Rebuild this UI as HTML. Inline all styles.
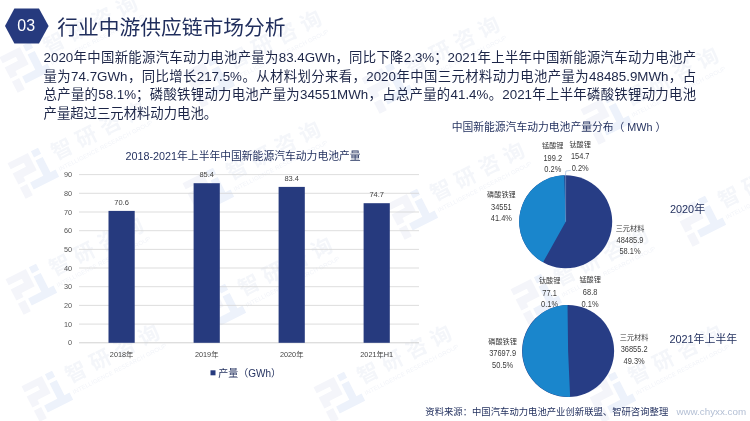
<!DOCTYPE html>
<html lang="zh-CN">
<head>
<meta charset="utf-8">
<title>行业中游供应链市场分析</title>
<style>
html,body{margin:0;padding:0;}
body{width:750px;height:421px;overflow:hidden;background:#fff;position:relative;
  font-family:"Liberation Sans","Noto Sans CJK SC",sans-serif;color:#1f2a52;}
#slide{will-change:transform;position:absolute;left:0;top:0;width:750px;height:421px;overflow:hidden;background:#fff;}
.abs{position:absolute;white-space:nowrap;}
#wm{position:absolute;left:0;top:0;width:750px;height:421px;}
#hex{position:absolute;left:0;top:0;}
#num{left:4.4px;top:16px;width:43.6px;text-align:center;color:#fff;font-size:16px;line-height:20px;}
#title{left:57.2px;top:12.6px;font-size:20.75px;line-height:30px;color:#1f2d5c;}
#body{left:43.6px;top:49.4px;width:652.4px;white-space:normal;font-size:13.35px;line-height:18.5px;color:#1c2547;}
.j{text-align:justify;text-align-last:justify;text-justify:inter-character;white-space:nowrap;}
.ct{font-size:9.6px;color:#1f2d5c;text-align:center;}
.sm{font-size:7.4px;color:#333;line-height:10px;}
.lbl{font-size:7.6px;color:#333;line-height:13px;text-align:center;}
</style>
</head>
<body>
<div id="slide">

<svg id="wm" width="750" height="421" viewBox="0 0 750 421">
  
    <g transform="translate(54,43) rotate(-27)">
      <g transform="translate(-55,-12) scale(1.14)">
        <path fill="#f4f5fa" d="M0 0h20v17h-13v4h-7v-11h13v-4h-13z M0 24h7v11h-7z"/>
        <path fill="#edf2fb" d="M23 0h7v6h-7z M23 9h7v15h5v7h-25v-7h13z"/>
      </g>
      <text x="-10.5" y="7.6" font-size="21" font-weight="700" fill="#f4f6fa" font-family="'Liberation Sans','Noto Sans CJK SC',sans-serif" letter-spacing="6.2">智研咨询</text>
      <text x="-12" y="19" font-size="6" fill="#f2f4f9" font-family="'Liberation Sans',sans-serif" letter-spacing="0.1">INTELLIGENCE RESEARCH GROUP</text>
    </g>
    <g transform="translate(62,149) rotate(-27)">
      <g transform="translate(-55,-12) scale(1.14)">
        <path fill="#f4f5fa" d="M0 0h20v17h-13v4h-7v-11h13v-4h-13z M0 24h7v11h-7z"/>
        <path fill="#edf2fb" d="M23 0h7v6h-7z M23 9h7v15h5v7h-25v-7h13z"/>
      </g>
      <text x="-10.5" y="7.6" font-size="21" font-weight="700" fill="#f4f6fa" font-family="'Liberation Sans','Noto Sans CJK SC',sans-serif" letter-spacing="6.2">智研咨询</text>
      <text x="-12" y="19" font-size="6" fill="#f2f4f9" font-family="'Liberation Sans',sans-serif" letter-spacing="0.1">INTELLIGENCE RESEARCH GROUP</text>
    </g>
    <g transform="translate(60,265) rotate(-27)">
      <g transform="translate(-55,-12) scale(1.14)">
        <path fill="#f4f5fa" d="M0 0h20v17h-13v4h-7v-11h13v-4h-13z M0 24h7v11h-7z"/>
        <path fill="#edf2fb" d="M23 0h7v6h-7z M23 9h7v15h5v7h-25v-7h13z"/>
      </g>
      <text x="-10.5" y="7.6" font-size="21" font-weight="700" fill="#f4f6fa" font-family="'Liberation Sans','Noto Sans CJK SC',sans-serif" letter-spacing="6.2">智研咨询</text>
      <text x="-12" y="19" font-size="6" fill="#f2f4f9" font-family="'Liberation Sans',sans-serif" letter-spacing="0.1">INTELLIGENCE RESEARCH GROUP</text>
    </g>
    <g transform="translate(76,372) rotate(-27)">
      <g transform="translate(-55,-12) scale(1.14)">
        <path fill="#f4f5fa" d="M0 0h20v17h-13v4h-7v-11h13v-4h-13z M0 24h7v11h-7z"/>
        <path fill="#edf2fb" d="M23 0h7v6h-7z M23 9h7v15h5v7h-25v-7h13z"/>
      </g>
      <text x="-10.5" y="7.6" font-size="21" font-weight="700" fill="#f4f6fa" font-family="'Liberation Sans','Noto Sans CJK SC',sans-serif" letter-spacing="6.2">智研咨询</text>
      <text x="-12" y="19" font-size="6" fill="#f2f4f9" font-family="'Liberation Sans',sans-serif" letter-spacing="0.1">INTELLIGENCE RESEARCH GROUP</text>
    </g>
    <g transform="translate(238,58) rotate(-27)">
      <g transform="translate(-55,-12) scale(1.14)">
        <path fill="#f4f5fa" d="M0 0h20v17h-13v4h-7v-11h13v-4h-13z M0 24h7v11h-7z"/>
        <path fill="#edf2fb" d="M23 0h7v6h-7z M23 9h7v15h5v7h-25v-7h13z"/>
      </g>
      <text x="-10.5" y="7.6" font-size="21" font-weight="700" fill="#f4f6fa" font-family="'Liberation Sans','Noto Sans CJK SC',sans-serif" letter-spacing="6.2">智研咨询</text>
      <text x="-12" y="19" font-size="6" fill="#f2f4f9" font-family="'Liberation Sans',sans-serif" letter-spacing="0.1">INTELLIGENCE RESEARCH GROUP</text>
    </g>
    <g transform="translate(237,169) rotate(-27)">
      <g transform="translate(-55,-12) scale(1.14)">
        <path fill="#f4f5fa" d="M0 0h20v17h-13v4h-7v-11h13v-4h-13z M0 24h7v11h-7z"/>
        <path fill="#edf2fb" d="M23 0h7v6h-7z M23 9h7v15h5v7h-25v-7h13z"/>
      </g>
      <text x="-10.5" y="7.6" font-size="21" font-weight="700" fill="#f4f6fa" font-family="'Liberation Sans','Noto Sans CJK SC',sans-serif" letter-spacing="6.2">智研咨询</text>
      <text x="-12" y="19" font-size="6" fill="#f2f4f9" font-family="'Liberation Sans',sans-serif" letter-spacing="0.1">INTELLIGENCE RESEARCH GROUP</text>
    </g>
    <g transform="translate(249,285) rotate(-27)">
      <g transform="translate(-55,-12) scale(1.14)">
        <path fill="#f4f5fa" d="M0 0h20v17h-13v4h-7v-11h13v-4h-13z M0 24h7v11h-7z"/>
        <path fill="#edf2fb" d="M23 0h7v6h-7z M23 9h7v15h5v7h-25v-7h13z"/>
      </g>
      <text x="-10.5" y="7.6" font-size="21" font-weight="700" fill="#f4f6fa" font-family="'Liberation Sans','Noto Sans CJK SC',sans-serif" letter-spacing="6.2">智研咨询</text>
      <text x="-12" y="19" font-size="6" fill="#f2f4f9" font-family="'Liberation Sans',sans-serif" letter-spacing="0.1">INTELLIGENCE RESEARCH GROUP</text>
    </g>
    <g transform="translate(368,373) rotate(-27)">
      <g transform="translate(-55,-12) scale(1.14)">
        <path fill="#f4f5fa" d="M0 0h20v17h-13v4h-7v-11h13v-4h-13z M0 24h7v11h-7z"/>
        <path fill="#edf2fb" d="M23 0h7v6h-7z M23 9h7v15h5v7h-25v-7h13z"/>
      </g>
      <text x="-10.5" y="7.6" font-size="21" font-weight="700" fill="#f4f6fa" font-family="'Liberation Sans','Noto Sans CJK SC',sans-serif" letter-spacing="6.2">智研咨询</text>
      <text x="-12" y="19" font-size="6" fill="#f2f4f9" font-family="'Liberation Sans',sans-serif" letter-spacing="0.1">INTELLIGENCE RESEARCH GROUP</text>
    </g>
    <g transform="translate(416,64) rotate(-27)">
      <g transform="translate(-55,-12) scale(1.14)">
        <path fill="#f4f5fa" d="M0 0h20v17h-13v4h-7v-11h13v-4h-13z M0 24h7v11h-7z"/>
        <path fill="#edf2fb" d="M23 0h7v6h-7z M23 9h7v15h5v7h-25v-7h13z"/>
      </g>
      <text x="-10.5" y="7.6" font-size="21" font-weight="700" fill="#f4f6fa" font-family="'Liberation Sans','Noto Sans CJK SC',sans-serif" letter-spacing="6.2">智研咨询</text>
      <text x="-12" y="19" font-size="6" fill="#f2f4f9" font-family="'Liberation Sans',sans-serif" letter-spacing="0.1">INTELLIGENCE RESEARCH GROUP</text>
    </g>
    <g transform="translate(441,190) rotate(-27)">
      <g transform="translate(-55,-12) scale(1.14)">
        <path fill="#f4f5fa" d="M0 0h20v17h-13v4h-7v-11h13v-4h-13z M0 24h7v11h-7z"/>
        <path fill="#edf2fb" d="M23 0h7v6h-7z M23 9h7v15h5v7h-25v-7h13z"/>
      </g>
      <text x="-10.5" y="7.6" font-size="21" font-weight="700" fill="#f4f6fa" font-family="'Liberation Sans','Noto Sans CJK SC',sans-serif" letter-spacing="6.2">智研咨询</text>
      <text x="-12" y="19" font-size="6" fill="#f2f4f9" font-family="'Liberation Sans',sans-serif" letter-spacing="0.1">INTELLIGENCE RESEARCH GROUP</text>
    </g>
    <g transform="translate(565,275) rotate(-27)">
      <g transform="translate(-55,-12) scale(1.14)">
        <path fill="#f4f5fa" d="M0 0h20v17h-13v4h-7v-11h13v-4h-13z M0 24h7v11h-7z"/>
        <path fill="#edf2fb" d="M23 0h7v6h-7z M23 9h7v15h5v7h-25v-7h13z"/>
      </g>
      <text x="-10.5" y="7.6" font-size="21" font-weight="700" fill="#f4f6fa" font-family="'Liberation Sans','Noto Sans CJK SC',sans-serif" letter-spacing="6.2">智研咨询</text>
      <text x="-12" y="19" font-size="6" fill="#f2f4f9" font-family="'Liberation Sans',sans-serif" letter-spacing="0.1">INTELLIGENCE RESEARCH GROUP</text>
    </g>
    <g transform="translate(639,373) rotate(-27)">
      <g transform="translate(-55,-12) scale(1.14)">
        <path fill="#f4f5fa" d="M0 0h20v17h-13v4h-7v-11h13v-4h-13z M0 24h7v11h-7z"/>
        <path fill="#edf2fb" d="M23 0h7v6h-7z M23 9h7v15h5v7h-25v-7h13z"/>
      </g>
      <text x="-10.5" y="7.6" font-size="21" font-weight="700" fill="#f4f6fa" font-family="'Liberation Sans','Noto Sans CJK SC',sans-serif" letter-spacing="6.2">智研咨询</text>
      <text x="-12" y="19" font-size="6" fill="#f2f4f9" font-family="'Liberation Sans',sans-serif" letter-spacing="0.1">INTELLIGENCE RESEARCH GROUP</text>
    </g>
    <g transform="translate(635,95) rotate(-27)">
      <g transform="translate(-55,-12) scale(1.14)">
        <path fill="#f4f5fa" d="M0 0h20v17h-13v4h-7v-11h13v-4h-13z M0 24h7v11h-7z"/>
        <path fill="#edf2fb" d="M23 0h7v6h-7z M23 9h7v15h5v7h-25v-7h13z"/>
      </g>
      <text x="-10.5" y="7.6" font-size="21" font-weight="700" fill="#f4f6fa" font-family="'Liberation Sans','Noto Sans CJK SC',sans-serif" letter-spacing="6.2">智研咨询</text>
      <text x="-12" y="19" font-size="6" fill="#f2f4f9" font-family="'Liberation Sans',sans-serif" letter-spacing="0.1">INTELLIGENCE RESEARCH GROUP</text>
    </g>
    <g transform="translate(729,197) rotate(-27)">
      <g transform="translate(-55,-12) scale(1.14)">
        <path fill="#f4f5fa" d="M0 0h20v17h-13v4h-7v-11h13v-4h-13z M0 24h7v11h-7z"/>
        <path fill="#edf2fb" d="M23 0h7v6h-7z M23 9h7v15h5v7h-25v-7h13z"/>
      </g>
      <text x="-10.5" y="7.6" font-size="21" font-weight="700" fill="#f4f6fa" font-family="'Liberation Sans','Noto Sans CJK SC',sans-serif" letter-spacing="6.2">智研咨询</text>
      <text x="-12" y="19" font-size="6" fill="#f2f4f9" font-family="'Liberation Sans',sans-serif" letter-spacing="0.1">INTELLIGENCE RESEARCH GROUP</text>
    </g>
</svg>

<svg id="hex" width="60" height="50" viewBox="0 0 60 50">
  <polygon points="5,26 14.4,8.6 39,8.6 48.6,26 39,43.6 14.4,43.6" fill="#263a7e"/>
</svg>
<div id="num" class="abs">03</div>
<div id="title" class="abs">行业中游供应链市场分析</div>

<div id="body" class="abs"><div class="j">2020年中国新能源汽车动力电池产量为83.4GWh，同比下降2.3%；2021年上半年中国新能源汽车动力电池产</div><div class="j">量为74.7GWh，同比增长217.5%。从材料划分来看，2020年中国三元材料动力电池产量为48485.9MWh，占</div><div class="j">总产量的58.1%；磷酸铁锂动力电池产量为34551MWh，占总产量的41.4%。2021年上半年磷酸铁锂动力电池</div><div>产量超过三元材料动力电池。</div></div>

<!-- bar chart -->
<svg class="abs" style="left:0;top:140px" width="440" height="250" viewBox="0 140 440 250" font-family="'Liberation Sans','Noto Sans CJK SC',sans-serif">
  <text x="243" y="160" font-size="10.8" fill="#1f2d5c" text-anchor="middle">2018-2021年上半年中国新能源汽车动力电池产量</text>
  <g stroke="#d4d4d4" stroke-width="0.8">
    <line x1="79" x2="419" y1="174.6" y2="174.6"/>
    <line x1="79" x2="419" y1="193.3" y2="193.3"/>
    <line x1="79" x2="419" y1="212.0" y2="212.0"/>
    <line x1="79" x2="419" y1="230.7" y2="230.7"/>
    <line x1="79" x2="419" y1="249.4" y2="249.4"/>
    <line x1="79" x2="419" y1="268.0" y2="268.0"/>
    <line x1="79" x2="419" y1="286.7" y2="286.7"/>
    <line x1="79" x2="419" y1="305.4" y2="305.4"/>
    <line x1="79" x2="419" y1="324.1" y2="324.1"/>
  </g>
  <line x1="79" x2="419" y1="342.8" y2="342.8" stroke="#cccccc" stroke-width="0.9"/>
  <g fill="#263a7e">
    <rect x="108.5" y="210.9" width="26.2" height="131.9"/>
    <rect x="193.6" y="183.2" width="26.2" height="159.6"/>
    <rect x="278.6" y="186.9" width="26.2" height="155.9"/>
    <rect x="363.6" y="203.2" width="26.2" height="139.6"/>
  </g>
  <g font-size="7.3" fill="#555" text-anchor="end">
    <text x="72" y="177.2">90</text>
    <text x="72" y="195.9">80</text>
    <text x="72" y="214.6">70</text>
    <text x="72" y="233.3">60</text>
    <text x="72" y="252.0">50</text>
    <text x="72" y="270.6">40</text>
    <text x="72" y="289.3">30</text>
    <text x="72" y="308.0">20</text>
    <text x="72" y="326.7">10</text>
    <text x="72" y="345.4">0</text>
  </g>
  <g font-size="7.5" fill="#444" text-anchor="middle">
    <text x="121.6" y="204.8">70.6</text>
    <text x="206.7" y="177.1">85.4</text>
    <text x="291.7" y="180.8">83.4</text>
    <text x="376.7" y="197.1">74.7</text>
  </g>
  <g font-size="7.3" fill="#444" text-anchor="middle">
    <text x="121.6" y="356.5">2018年</text>
    <text x="206.7" y="356.5">2019年</text>
    <text x="291.7" y="356.5">2020年</text>
    <text x="376.7" y="356.5">2021年H1</text>
  </g>
  <rect x="210.5" y="370.3" width="5" height="5" fill="#263a7e"/>
  <text x="218.3" y="376.6" font-size="10" fill="#1f2d5c">产量（GWh）</text>
</svg>

<!-- pies -->
<svg class="abs" style="left:400px;top:110px" width="350" height="311" viewBox="400 110 350 311" font-family="'Liberation Sans','Noto Sans CJK SC',sans-serif">
  <text x="559" y="131" font-size="10.8" fill="#1f2d5c" text-anchor="middle">中国新能源汽车动力电池产量分布（ MWh ）</text>

  <!-- pie 2020 -->
  <circle cx="565.7" cy="221.7" r="46.5" fill="#273d85"/>
  <path id="p1" d="M565.7 221.7 L543.04 262.31 A46.5 46.5 0 0 1 564.24 175.22 Z" fill="#1a86cc"/>

  <g fill="#3a3a3a">
    <text x="552.80" y="148.05" font-size="7.15" text-anchor="middle">锰酸锂</text><text x="543.48" y="160.85" font-size="8.3" textLength="18.64" lengthAdjust="spacingAndGlyphs">199.2</text><text x="544.31" y="172.35" font-size="8.3" textLength="16.98" lengthAdjust="spacingAndGlyphs">0.2%</text>
    <text x="580.20" y="146.95" font-size="7.15" text-anchor="middle">钛酸锂</text><text x="570.88" y="159.25" font-size="8.3" textLength="18.64" lengthAdjust="spacingAndGlyphs">154.7</text><text x="571.71" y="171.05" font-size="8.3" textLength="16.98" lengthAdjust="spacingAndGlyphs">0.2%</text>
    <text x="501.40" y="197.05" font-size="7.15" text-anchor="middle">磷酸铁锂</text><text x="491.04" y="209.65" font-size="8.3" textLength="20.71" lengthAdjust="spacingAndGlyphs">34551</text><text x="490.84" y="221.25" font-size="8.3" textLength="21.12" lengthAdjust="spacingAndGlyphs">41.4%</text>
    <text x="630.00" y="230.75" font-size="7.15" text-anchor="middle">三元材料</text><text x="616.54" y="242.65" font-size="8.3" textLength="26.92" lengthAdjust="spacingAndGlyphs">48485.9</text><text x="619.44" y="253.95" font-size="8.3" textLength="21.12" lengthAdjust="spacingAndGlyphs">58.1%</text>
  </g>
  <g fill="#3a3a3a">
    <text x="549.60" y="282.95" font-size="7.15" text-anchor="middle">钛酸锂</text><text x="542.35" y="295.85" font-size="8.3" textLength="14.50" lengthAdjust="spacingAndGlyphs">77.1</text><text x="541.11" y="307.25" font-size="8.3" textLength="16.98" lengthAdjust="spacingAndGlyphs">0.1%</text>
    <text x="590.10" y="282.35" font-size="7.15" text-anchor="middle">锰酸锂</text><text x="582.85" y="295.35" font-size="8.3" textLength="14.50" lengthAdjust="spacingAndGlyphs">68.8</text><text x="581.61" y="306.65" font-size="8.3" textLength="16.98" lengthAdjust="spacingAndGlyphs">0.1%</text>
    <text x="502.60" y="343.65" font-size="7.15" text-anchor="middle">磷酸铁锂</text><text x="489.14" y="355.95" font-size="8.3" textLength="26.92" lengthAdjust="spacingAndGlyphs">37697.9</text><text x="492.04" y="367.55" font-size="8.3" textLength="21.12" lengthAdjust="spacingAndGlyphs">50.5%</text>
    <text x="634.10" y="339.65" font-size="7.15" text-anchor="middle">三元材料</text><text x="620.64" y="351.95" font-size="8.3" textLength="26.92" lengthAdjust="spacingAndGlyphs">36855.2</text><text x="623.54" y="363.55" font-size="8.3" textLength="21.12" lengthAdjust="spacingAndGlyphs">49.3%</text>
  </g>
  <!-- pie 2021H1 -->
  <circle cx="568.1" cy="350.9" r="46" fill="#273d85"/>
  <path id="p2" d="M568.1 350.9 L570.12 396.86 A46 46 0 1 1 567.52 304.90 Z" fill="#1a86cc"/>
  <polyline points="565.4,175.4 565.9,171 570.8,170.4" fill="none" stroke="#9db8d9" stroke-width="0.7"/>
  <line x1="565.6" y1="175.2" x2="565.6" y2="221.7" stroke="#8fb7e0" stroke-width="0.5"/>
  <text x="687.5" y="212.6" font-size="10.9" fill="#1f2d5c" text-anchor="middle">2020年</text>
  <text x="703.3" y="342.9" font-size="10.9" fill="#1f2d5c" text-anchor="middle">2021年上半年</text>
  <text x="425.3" y="414.6" font-size="9.35" fill="#1f2d5c">资料来源：中国汽车动力电池产业创新联盟、智研咨询整理</text>
  <text x="676.4" y="415" font-size="9.8" fill="#b3bfd4">www.chyxx.com</text>
</svg>

</div>
</body>
</html>
